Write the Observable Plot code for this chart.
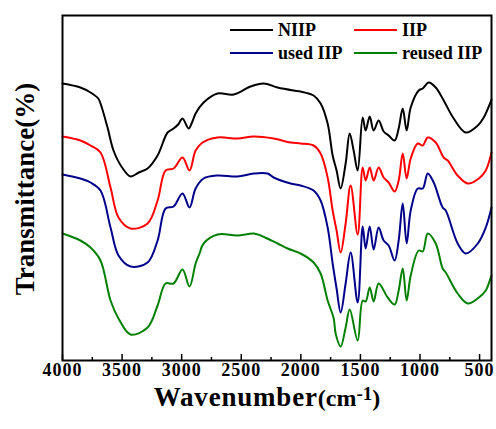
<!DOCTYPE html>
<html><head><meta charset="utf-8">
<script src="https://cdn.jsdelivr.net/npm/d3@7"></script>
<script src="https://cdn.jsdelivr.net/npm/@observablehq/plot@0.6"></script>
<style>
html,body{margin:0;padding:0;background:#fff;}
#chart{position:relative;width:496px;height:429px;}
svg text{font-family:"Liberation Serif","Times New Roman",serif;font-weight:bold;}
g[aria-label="x-axis tick label"] text{letter-spacing:1px;}
</style></head><body><div id="chart"></div>
<script>
// Series names and colours
const seriesNames = ["NIIP", "IIP", "used IIP", "reused IIP"];
const seriesColors = ["#000000", "#ff0000", "#00008b", "#008000"];

// Wavenumbers (cm^-1) and transmittance (arbitrary units, offset curves)
const niipWn = [4000,3850,3765,3700,3681,3622,3572,3500,3429,3360,3286,3202,3118,3068,3030,2993,2942,2910,2883,2816,2699,2564,2422,2312,2195,2061,2002,1893,1834,1775,1733,1700,1666,1624,1590,1557,1523,1481,1456,1422,1389,1347,1305,1263,1213,1179,1145,1112,1078,1011,977,927,868,801,717,616,515,465,406,400];
const niipT  = [277,273,268,262,257,233,210,193,184,188,192,205,228,232,236,242,232,239,247,258,267,266,274,277,273,270,269,265,257,237,205,190,172,197,227,210,190,243,230,244,230,240,229,225,220,232,252,230,253,270,272,278,273,260,242,228,235,243,259,261];

const iipWn = [4000,3850,3765,3681,3597,3530,3429,3286,3202,3135,3068,2993,2934,2883,2825,2699,2531,2396,2228,2086,2002,1893,1834,1775,1733,1700,1666,1624,1582,1523,1481,1456,1422,1389,1347,1305,1263,1213,1179,1145,1112,1078,1019,977,935,868,801,767,684,599,506,448,406,400];
const iipT  = [224,220,215,208,173,143,132,137,160,190,192,203,190,210,218,223,222,224,222,218,217,215,207,183,150,130,108,137,175,126,193,180,193,180,193,183,178,169,180,207,182,202,217,215,223,218,203,200,185,177,182,190,205,208];

const usedWn = [4000,3850,3765,3681,3597,3530,3429,3286,3202,3135,3068,2993,2934,2883,2816,2699,2531,2396,2279,2228,2086,2002,1893,1834,1775,1733,1700,1666,1624,1582,1523,1481,1456,1422,1389,1347,1305,1263,1213,1179,1145,1112,1078,1019,977,935,885,810,784,684,616,515,448,406,400];
const usedT  = [186,182,178,170,133,105,94,98,120,152,154,167,153,172,182,185,184,187,187,183,177,175,170,160,133,97,72,48,77,108,58,134,112,134,111,133,120,115,100,120,157,117,150,172,172,187,178,153,150,117,107,117,133,150,153];

const reusedWn = [4000,3850,3765,3681,3597,3530,3429,3286,3202,3135,3068,2993,2934,2883,2850,2816,2699,2531,2396,2338,2195,2111,2002,1893,1834,1775,1724,1708,1666,1624,1590,1523,1481,1456,1422,1389,1347,1271,1213,1179,1145,1112,1078,1011,977,935,868,810,784,684,599,506,448,406,400];
const reusedT  = [127,120,113,100,60,42,26,33,55,77,77,91,74,97,107,117,126,125,127,125,117,112,107,98,87,60,42,27,14,33,51,20,60,59,73,59,77,63,56,70,92,60,85,110,109,127,117,92,88,67,57,63,70,83,85];

// Axis ticks
const majorTicks = [4000,3500,3000,2500,2000,1500,1000,500];
const minorTicks = [3750,3250,2750,2250,1750,1250,750];

const wnLists = [niipWn, iipWn, usedWn, reusedWn];
const tLists = [niipT, iipT, usedT, reusedT];
const rows = seriesNames.flatMap((name, k) => wnLists[k].map((w, i) => ({series: name, wn: w, t: tLists[k][i]})));

const plot = Plot.plot({
  width: 496, height: 429,
  marginLeft: 62, marginRight: 5, marginTop: 15, marginBottom: 69,
  style: {background: "white", fontFamily: "Liberation Serif, Times New Roman, serif", fontWeight: "bold", color: "black", overflow: "visible"},
  x: {domain: [4000, 400], label: null},
  y: {domain: [0, 345], axis: null},
  marks: [
    Plot.axisX({ticks: majorTicks, tickSize: -6, tickFormat: () => "", label: null, strokeWidth: 1.5}),
    Plot.axisX({ticks: minorTicks, tickSize: -3, tickFormat: () => "", label: null, strokeWidth: 1.5}),
    Plot.axisX({ticks: majorTicks, tickSize: 0, tickPadding: 3, tickFormat: d => String(d), fontSize: 18, label: null}),
    ...seriesNames.map((name, k) => Plot.line(rows.filter(r => r.series === name), {x: "wn", y: "t", stroke: seriesColors[k], strokeWidth: 2, curve: "catmull-rom"})),
    Plot.frame({stroke: "black", strokeWidth: 2})
  ]
});
document.getElementById("chart").appendChild(plot);

const svg = d3.select(plot);
// y label
svg.append("text")
  .attr("transform", "translate(34,189) rotate(-90)")
  .attr("text-anchor", "middle")
  .style("font-size", "27px")
  .text("Transmittance(%)");
// x label
const xl = svg.append("text").attr("x", 267).attr("y", 406).attr("text-anchor", "middle").style("font-size", "27px");
xl.append("tspan").style("letter-spacing", "0.8px").text("Wavenumber");
xl.append("tspan").style("font-size", "24px").text("(cm");
xl.append("tspan").style("font-size", "19px").attr("dy", -6).text("-1");
xl.append("tspan").style("font-size", "24px").attr("dy", 6).text(")");
// legend
const colX = [230, 354], rowY = [30, 53];
seriesNames.forEach((name, i) => {
  const x0 = colX[i % 2], y0 = rowY[Math.floor(i / 2)];
  svg.append("line").attr("x1", x0).attr("x2", x0 + 43).attr("y1", y0).attr("y2", y0)
    .attr("stroke", seriesColors[i]).attr("stroke-width", 2);
  svg.append("text").attr("x", x0 + 48).attr("y", y0 + 6).attr("text-anchor", "start")
    .style("font-size", "18px").text(name);
});
</script></body></html>
